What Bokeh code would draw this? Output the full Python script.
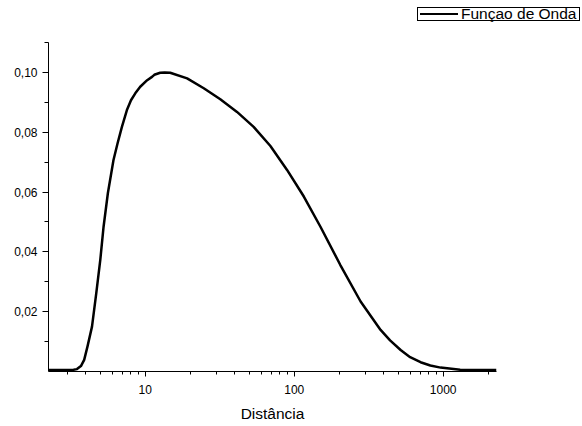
from bokeh.plotting import figure
from bokeh.layouts import column
from bokeh.models import (FixedTicker, PrintfTickFormatter, CustomJSTickFormatter,
                          Range1d, Div)
from bokeh.embed import file_html
from bokeh.resources import INLINE

# Data
distancia = [2.24, 3.0, 3.3, 3.48, 3.7, 3.89, 4.1, 4.39, 4.69, 4.99, 5.25, 5.61,
             6.12, 6.52, 6.97, 7.53, 8.02, 8.57, 9.25, 10.3, 11.1, 11.5, 12.6,
             13.5, 14.7, 19.1, 24.7, 31.9, 41.3, 53.4, 69.2, 89.5, 116, 150,
             204, 279, 380, 440, 518, 600, 705, 820, 961, 1300, 1700, 2280]
funcao_onda = [0.0005, 0.0005, 0.0006, 0.0008, 0.0018, 0.0039, 0.0085, 0.0150,
               0.0262, 0.0373, 0.0484, 0.0596, 0.0707, 0.0763, 0.0818, 0.0874,
               0.0907, 0.0930, 0.0952, 0.0974, 0.0985, 0.0992, 0.0999, 0.1000,
               0.0999, 0.0980, 0.0947, 0.0910, 0.0868, 0.0818, 0.0754, 0.0674,
               0.0585, 0.0484, 0.0356, 0.0234, 0.0139, 0.0104, 0.0072, 0.0048,
               0.0031, 0.0020, 0.0013, 0.0006, 0.0005, 0.0005]

x_major = [10, 100, 1000]
x_minor = [3, 4, 5, 6, 7, 8, 9, 20, 30, 40, 50, 60, 70, 80, 90,
           200, 300, 400, 500, 600, 700, 800, 900, 2000]
y_major = [0.02, 0.04, 0.06, 0.08, 0.10]
y_minor = [0.01, 0.03, 0.05, 0.07, 0.09, 0.11]

x_label = "Distância"
legend_label = "Funçao de Onda"

FONT = "Liberation Sans"

# ---- legend strip (top, outside the plot frame like the reference) ----
legend_html = (
    '<div style="margin:0;padding:7px 0 0 417px;">'
    '<div style="display:flex;align-items:center;width:163px;height:14px;'
    'border:1px solid #000;background:#fff;white-space:nowrap;'
    "font-family:'Liberation Sans',Arial,sans-serif;font-size:15.5px;"
    'line-height:14px;color:#000;overflow:visible;">'
    '<span style="display:inline-block;width:38px;height:0;'
    'border-top:2.5px solid #000;margin:0 3px 0 2px;"></span>'
    f'<span>{legend_label}</span></div></div>'
)
legend_div = Div(text=legend_html, width=582, height=42,
                 styles={"margin": "0", "padding": "0"})

# ---- main plot ----
p = figure(frame_width=448, frame_height=329, x_axis_type="log",
           x_range=Range1d(2.241, 2280), y_range=Range1d(0.0, 0.11),
           output_backend="svg", toolbar_location=None,
           min_border_left=48, min_border_right=86,
           min_border_top=0, min_border_bottom=55)

p.outline_line_color = None
p.xgrid.grid_line_color = None
p.ygrid.grid_line_color = None
p.background_fill_color = "white"
p.border_fill_color = "white"

r = p.line(distancia, funcao_onda, line_color="black", line_width=2.5,
           line_join="round")

# X axis
xa = p.xaxis[0]
xa.ticker = FixedTicker(ticks=x_major, minor_ticks=x_minor)
xa.formatter = PrintfTickFormatter(format="%d")
xa.axis_label = x_label
xa.axis_label_text_font = FONT
xa.axis_label_text_font_size = "15.5px"
xa.axis_label_text_font_style = "normal"
xa.axis_label_text_color = "black"
xa.axis_label_standoff = 8
xa.major_label_text_font = FONT
xa.major_label_text_font_size = "12px"
xa.major_label_text_color = "black"
xa.major_label_standoff = 8
xa.major_tick_in = 0
xa.major_tick_out = 5
xa.minor_tick_in = 0
xa.minor_tick_out = 3
xa.axis_line_color = "black"
xa.major_tick_line_color = "black"
xa.minor_tick_line_color = "black"

# Y axis
ya = p.yaxis[0]
ya.ticker = FixedTicker(ticks=y_major, minor_ticks=y_minor)
ya.formatter = CustomJSTickFormatter(code="return tick.toFixed(2).replace('.', ',');")
ya.major_label_text_font = FONT
ya.major_label_text_font_size = "12px"
ya.major_label_text_color = "black"
ya.major_label_standoff = 5
ya.major_tick_in = 0
ya.major_tick_out = 6
ya.minor_tick_in = 0
ya.minor_tick_out = 4
ya.axis_line_color = "black"
ya.major_tick_line_color = "black"
ya.minor_tick_line_color = "black"

layout = column(legend_div, p, spacing=0)

open("out.html", "w").write(file_html(layout, INLINE))
